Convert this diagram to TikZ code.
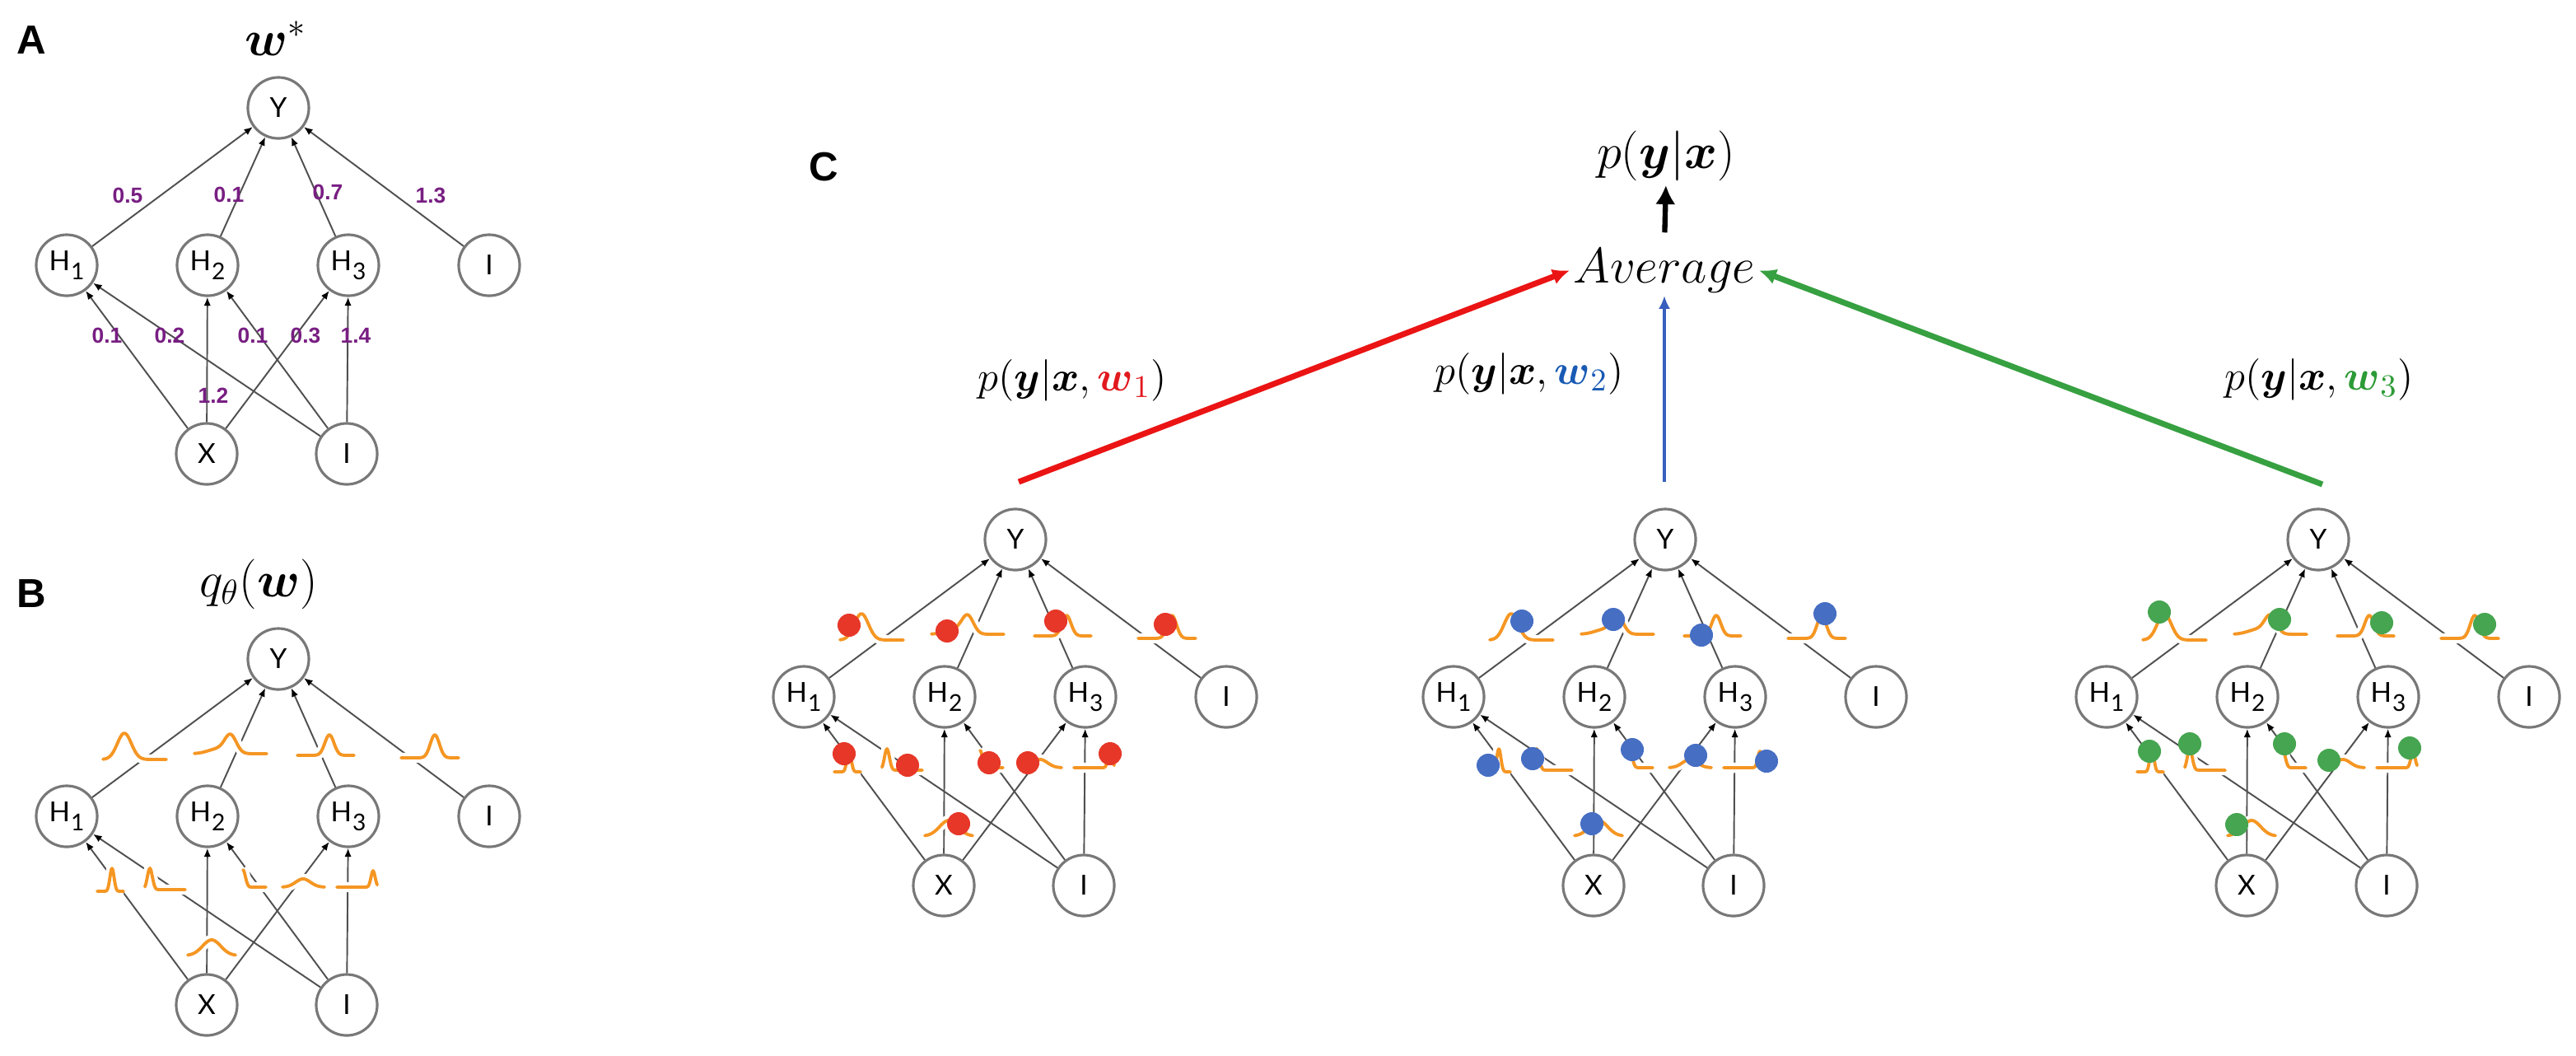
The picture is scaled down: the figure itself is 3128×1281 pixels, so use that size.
\documentclass[tikz,border=0pt]{standalone}
\usepackage{fontspec}
\usepackage{amsmath,amsbsy}
\usetikzlibrary{arrows.meta}
\newfontfamily\nodefont{Lato}
\newfontfamily\panelfont{Liberation Sans}
\definecolor{nodegray}{RGB}{120,120,120}
\definecolor{edgegray}{RGB}{80,80,80}
\definecolor{wpurple}{RGB}{120,30,130}
\definecolor{gorange}{RGB}{245,150,35}
\definecolor{dotred}{RGB}{230,55,40}
\definecolor{dotblue}{RGB}{70,110,195}
\definecolor{dotgreen}{RGB}{70,165,80}
\definecolor{arrred}{RGB}{235,20,20}
\definecolor{arrblue}{RGB}{55,95,190}
\definecolor{arrgreen}{RGB}{55,160,65}
\definecolor{txtred}{RGB}{225,25,30}
\definecolor{txtblue}{RGB}{25,90,180}
\definecolor{txtgreen}{RGB}{45,155,55}

\newcommand{\hsub}[1]{H\kern0.3pt\raisebox{-0.32em}{\fontsize{8}{9}\selectfont #1}}

\tikzset{
  nn/.style={circle, draw=nodegray, line width=0.9pt, fill=white, minimum size=0.74cm,
    inner sep=0pt, font=\nodefont\fontsize{9.5}{11}\selectfont},
  ed/.style={draw=edgegray, line width=0.55pt, -{Latex[length=3pt,width=2.4pt,color=black]}},
  wl/.style={text=wpurple, font=\panelfont\bfseries\fontsize{7.5}{8}\selectfont, inner sep=0pt},
  gcurve/.style={draw=gorange, line width=1.1pt, line join=round, line cap=round},
  halo/.style={draw=white, line width=3.5pt},
  panel/.style={font=\panelfont\bfseries\fontsize{14}{16}\selectfont, inner sep=0pt},
  mathlab/.style={font=\fontsize{15}{17}\selectfont, inner sep=0pt},
}

% gaussian curve: #1 mean x, #2 baseline y, #3 left offset, #4 right offset, #5 sigma, #6 height
\newcommand{\gcv}[6]{%
  \draw[halo] plot[domain=#3:#4, samples=41] ({#1+\x},{#2-#6*exp(-min(0.5*(\x/#5)*(\x/#5),30))});
  \draw[gcurve] plot[domain=#3:#4, samples=41] ({#1+\x},{#2-#6*exp(-min(0.5*(\x/#5)*(\x/#5),30))});
}

\newcommand{\allcurves}{%
  \gcv{70}{-69}{-26}{51}{8.5}{32}
  \draw[halo] plot[domain=-44:44,samples=61] ({199+\x},{-76-21*exp(-min(0.5*(\x/7)*(\x/7),30))-6*exp(-min(0.5*((\x+15)/12)*((\x+15)/12),30))});
  \draw[gcurve] plot[domain=-44:44,samples=61] ({199+\x},{-76-21*exp(-min(0.5*(\x/7)*(\x/7),30))-6*exp(-min(0.5*((\x+15)/12)*((\x+15)/12),30))});
  \gcv{319}{-74}{-39}{30}{5.5}{25}
  \gcv{447}{-71}{-41}{29}{5.5}{28}
  \gcv{55}{91}{-18}{14}{2.5}{28}
  \gcv{101}{89}{-6}{43}{3}{26}
  \gcv{214}{86}{0}{28}{3}{21}
  \gcv{287}{86}{-25}{26}{9}{10}
  \gcv{372}{86}{-44}{5}{2.5}{20}
  \gcv{176}{169}{-29}{29}{11}{19}
}

% network: #1 prefix, #2 #3 position of H1
\newcommand{\drawnet}[3]{%
  \begin{scope}[shift={(#2,#3)}]
    \node[nn] (#1H1) at (0,0) {\hsub{1}};
    \node[nn] (#1H2) at (171,0) {\hsub{2}};
    \node[nn] (#1H3) at (342,0) {\hsub{3}};
    \node[nn] (#1Ir) at (513,0) {I};
    \node[nn] (#1Y) at (257,-191) {Y};
    \node[nn] (#1X) at (170,229) {X};
    \node[nn] (#1Ib) at (340,229) {I};
    \draw[ed] (#1X) -- (#1H1);
    \draw[ed] (#1X) -- (#1H2);
    \draw[ed] (#1X) -- (#1H3);
    \draw[ed] (#1Ib) -- (#1H1);
    \draw[ed] (#1Ib) -- (#1H2);
    \draw[ed] (#1Ib) -- (#1H3);
    \draw[ed] (#1H1) -- (#1Y);
    \draw[ed] (#1H2) -- (#1Y);
    \draw[ed] (#1H3) -- (#1Y);
    \draw[ed] (#1Ir) -- (#1Y);
  \end{scope}}

\newcommand{\putdots}[4]{% #1 colour, #2 #3 origin, #4 list
  \begin{scope}[shift={(#2,#3)}]
    \foreach \a/\b in {#4} {\fill[#1] (\a,\b) circle (0.14cm);}
  \end{scope}}

\begin{document}
\begin{tikzpicture}[x=0.01cm, y=-0.01cm]
  \fill[white] (0,0) rectangle (3128,1281);
  \useasboundingbox (0,0) rectangle (3128,1281);

  % ---------- Panel A ----------
  \node[panel] (pA) at (38,49) {A};
  \node[font=\fontsize{18}{20}\selectfont, inner sep=0pt] (wstar) at (335,47) {$\boldsymbol{w}^*$};
  \drawnet{a}{81}{322}
  \node[wl] (la1) at (155,237) {0.5};
  \node[wl] (la2) at (278,236) {0.1};
  \node[wl] (la3) at (398,233) {0.7};
  \node[wl] (la4) at (523,237) {1.3};
  \node[wl] (la5) at (130,407) {0.1};
  \node[wl] (la6) at (206,407) {0.2};
  \node[wl] (la7) at (307,407) {0.1};
  \node[wl] (la8) at (371,407) {0.3};
  \node[wl] (la9) at (432,407) {1.4};
  \node[wl] (la10) at (259,480) {1.2};

  % ---------- Panel B ----------
  \node[panel] (pB) at (38,721) {B};
  \node[font=\fontsize{17}{19}\selectfont, inner sep=0pt] (qth) at (314,709) {$q_\theta(\boldsymbol{w})$};
  \drawnet{b}{81}{991}
  \begin{scope}[shift={(81,991)}]\allcurves\end{scope}

  % ---------- Panel C ----------
  \node[panel] (pC) at (1000,203) {C};
  \drawnet{c}{976}{846}
  \begin{scope}[shift={(976,846)}]\allcurves\end{scope}
  \putdots{dotred}{976}{846}{55/-87,174/-80,306/-92,439/-88,49/69,126/83,225/80,272/80,372/69,188/154}

  \drawnet{d}{1765}{846}
  \begin{scope}[shift={(1765,846)}]\allcurves\end{scope}
  \putdots{dotblue}{1765}{846}{83/-92,194/-94,301/-75,451/-101,42/83,96/75,217/64,294/71,380/78,168/154}

  \drawnet{e}{2558}{846}
  \begin{scope}[shift={(2558,846)}]\allcurves\end{scope}
  \putdots{dotgreen}{2558}{846}{64/-103,210/-94,334/-90,459/-88,52/66,101/57,216/57,270/77,368/62,158/155}

  % top of C
  \node[font=\fontsize{18}{20}\selectfont, inner sep=1pt, anchor=base] (avg) at (2021,343) {$Average$};
  \node[font=\fontsize{17}{19}\selectfont, inner sep=0pt] (pyx) at (2023,189) {$p(\boldsymbol{y}|\boldsymbol{x})$};
  \draw[line width=1.8pt, -{Latex[length=6.5pt,width=7pt]}, shorten <=0.15cm, shorten >=0.05cm] (avg.north) -- (pyx.south);

  \coordinate (r1) at (1237,585);
  \coordinate (b1) at (2021,585);
  \coordinate (g1) at (2820,588);
  \draw[arrred, line width=2pt, -{Latex[length=6pt,width=5.5pt]}] (r1) -- (avg.west);
  \draw[arrblue, line width=1.2pt, -{Latex[length=4.5pt,width=4pt]}] (b1) -- (avg.south);
  \draw[arrgreen, line width=2pt, -{Latex[length=6pt,width=5.5pt]}] (g1) -- (avg.east);

  \node[mathlab] (l1) at (1302,462) {$p(\boldsymbol{y}|\boldsymbol{x},\textcolor{txtred}{\boldsymbol{w}_1})$};
  \node[mathlab] (l2) at (1857,454) {$p(\boldsymbol{y}|\boldsymbol{x},\textcolor{txtblue}{\boldsymbol{w}_2})$};
  \node[mathlab] (l3) at (2816,461) {$p(\boldsymbol{y}|\boldsymbol{x},\textcolor{txtgreen}{\boldsymbol{w}_3})$};
\end{tikzpicture}
\end{document}
